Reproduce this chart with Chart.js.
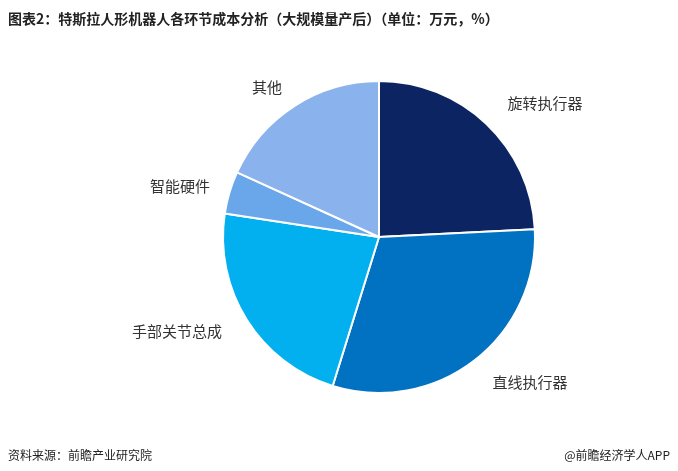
<!DOCTYPE html>
<html><head><meta charset="utf-8">
<script src="https://cdn.jsdelivr.net/npm/chart.js@4/dist/chart.umd.min.js"></script>
<style>body{margin:0;width:678px;height:471px;background:#fff;font-family:"Noto Sans CJK SC";position:relative;overflow:hidden}
#t{position:absolute;left:8px;top:8px;font-size:14px;font-weight:bold;color:#222;z-index:2}
#s{position:absolute;left:8px;bottom:8px;font-size:12px;color:#222;z-index:2}
#r{position:absolute;right:8px;bottom:8px;font-size:12px;color:#222;z-index:2}
#c{position:absolute;left:0;top:0;width:678px;height:471px}</style></head>
<body><div id="c"><canvas id="cv"></canvas></div><div id="t">图表2：特斯拉人形机器人各环节成本分析（大规模量产后）（单位：万元，%）</div>
<div id="s">资料来源：前瞻产业研究院</div><div id="r">@前瞻经济学人APP</div>
<script>
const labels=["旋转执行器","直线执行器","手部关节总成","智能硬件","其他"];
const values=[24.2,30.6,22.6,4.4,18.2];
const colors=["#0c2461","#0171c1","#02b0ef","#6aa6ea","#8ab3ee"];
const labelPos=[[545,103],[530,382],[177,331],[180,186],[267,87]];
const lbl={id:'lbl',afterDraw(c){const x=c.ctx;x.save();x.font='15px "Noto Sans CJK SC"';x.fillStyle='#333';x.textAlign='center';x.textBaseline='middle';labels.forEach((l,i)=>x.fillText(l,labelPos[i][0],labelPos[i][1]));x.restore();}};
new Chart(document.getElementById('cv'),{type:'pie',data:{labels,datasets:[{data:values,backgroundColor:colors,borderColor:'#fff',borderWidth:2}]},
options:{responsive:true,maintainAspectRatio:false,animation:false,layout:{padding:{top:80,bottom:77,left:222,right:142}},plugins:{legend:{display:false},tooltip:{enabled:false}}},plugins:[lbl]});
</script></body></html>
